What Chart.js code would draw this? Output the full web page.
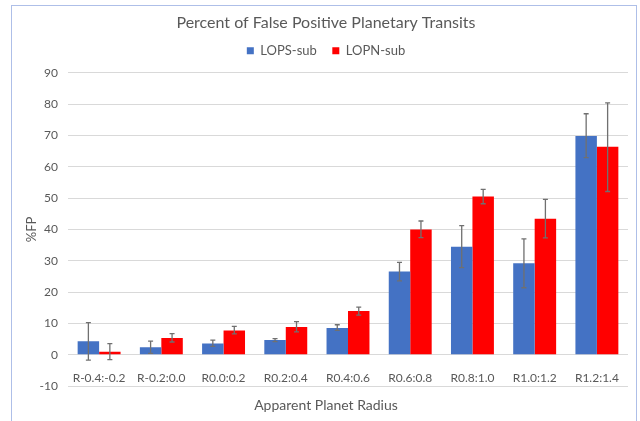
<!DOCTYPE html>
<html>
<head>
<meta charset="utf-8">
<script src="https://cdn.jsdelivr.net/npm/chart.js@4/dist/chart.umd.min.js"></script>
<style>
    html, body { margin: 0; padding: 0; background: #fff; }
    .frame { position: absolute; left: 11px; top: 5px; width: 624px; height: 500px;
             border: 1.5px solid #aebfe8; border-bottom: none; }
    #chart { position: absolute; left: 0; top: 0; }
</style>
</head>
<body>
<div class="frame"></div>
<canvas id="chart" width="640" height="421"></canvas>
<script>
const categories = ['R-0.4:-0.2', 'R-0.2:0.0', 'R0.0:0.2', 'R0.2:0.4', 'R0.4:0.6', 'R0.6:0.8', 'R0.8:1.0', 'R1.0:1.2', 'R1.2:1.4'];
const lopsSub = [4.3, 2.4, 3.6, 4.7, 8.6, 26.6, 34.5, 29.2, 69.8];
const lopnSub = [1.0, 5.4, 7.8, 8.9, 14.0, 40.0, 50.5, 43.4, 66.4];
const lopsErrHigh = [10.3, 4.4, 4.7, 5.2, 9.6, 29.5, 41.2, 37.0, 76.9];
const lopsErrLow = [-1.7, 0.5, 2.7, 4.2, 7.8, 23.6, 27.8, 21.4, 62.9];
const lopnErrHigh = [3.6, 6.8, 9.1, 10.6, 15.2, 42.7, 52.8, 49.6, 80.4];
const lopnErrLow = [-1.5, 4.1, 6.7, 7.3, 12.7, 37.4, 48.2, 37.3, 52.1];
const yTicks = { min: -10, max: 90, step: 10 };

const textColor = '#595959';
const fontFamily = 'Lato, "Open Sans", sans-serif';

// draws the grey error whiskers on each bar
const errorBars = {
    id: 'errorBars',
    afterDatasetsDraw(chart) {
        const ctx = chart.ctx;
        const yScale = chart.scales.y;
        ctx.save();
        ctx.strokeStyle = '#707070';
        ctx.lineWidth = 1.3;
        chart.data.datasets.forEach(function (ds, i) {
            const meta = chart.getDatasetMeta(i);
            meta.data.forEach(function (bar, j) {
                const top = yScale.getPixelForValue(ds.errHigh[j]);
                const bottom = yScale.getPixelForValue(ds.errLow[j]);
                ctx.beginPath();
                ctx.moveTo(bar.x, top);
                ctx.lineTo(bar.x, bottom);
                ctx.moveTo(bar.x - 2.5, top);
                ctx.lineTo(bar.x + 2.5, top);
                ctx.moveTo(bar.x - 2.5, bottom);
                ctx.lineTo(bar.x + 2.5, bottom);
                ctx.stroke();
            });
        });
        ctx.restore();
    }
};

new Chart(document.getElementById('chart'), {
    type: 'bar',
    data: {
        labels: categories,
        datasets: [
            { label: 'LOPS-sub', data: lopsSub, errHigh: lopsErrHigh, errLow: lopsErrLow, backgroundColor: '#4472c4' },
            { label: 'LOPN-sub', data: lopnSub, errHigh: lopnErrHigh, errLow: lopnErrLow, backgroundColor: '#ff0000' }
        ]
    },
    options: {
        responsive: false,
        animation: false,
        categoryPercentage: 0.69,
        barPercentage: 1.0,
        layout: { padding: { left: 24, right: 12, top: 0, bottom: 0 } },
        plugins: {
            title: {
                display: true,
                text: 'Percent of False Positive Planetary Transits',
                color: textColor,
                font: { family: fontFamily, size: 16, weight: 'normal', lineHeight: 0.7 },
                padding: { top: 17.5, bottom: 0 }
            },
            subtitle: {
                display: true,
                position: 'bottom',
                text: 'Apparent Planet Radius',
                color: textColor,
                font: { family: fontFamily, size: 14, weight: 'normal' },
                padding: { top: 11, bottom: 7 }
            },
            legend: {
                position: 'top',
                labels: {
                    boxWidth: 7, boxHeight: 7, padding: 15.5,
                    color: textColor,
                    font: { family: fontFamily, size: 13 }
                }
            },
            tooltip: { enabled: false }
        },
        scales: {
            x: {
                position: { y: 0 },
                grid: { display: false },
                border: { display: false },
                ticks: {
                    color: textColor, padding: 8, maxRotation: 0, autoSkip: false,
                    font: { family: fontFamily, size: 12 }
                },
                afterFit(scale) { scale.height = 1; }
            },
            spacer: {
                type: 'linear',
                position: 'top',
                grid: { display: false },
                border: { display: false },
                ticks: { display: false },
                afterFit(scale) { scale.height = 5.5; }
            },
            y: {
                min: yTicks.min,
                max: yTicks.max,
                ticks: {
                    stepSize: yTicks.step, color: textColor, padding: 10,
                    font: { family: fontFamily, size: 12 }
                },
                grid: { color: '#d9d9d9', drawTicks: false },
                border: { display: false },
                title: {
                    display: true, text: '%FP', color: textColor,
                    font: { family: fontFamily, size: 13 },
                    padding: { top: 0, bottom: 0 }
                },
                afterFit(scale) { scale.width = 44; }
            }
        }
    },
    plugins: [errorBars]
});
</script>
</body>
</html>
